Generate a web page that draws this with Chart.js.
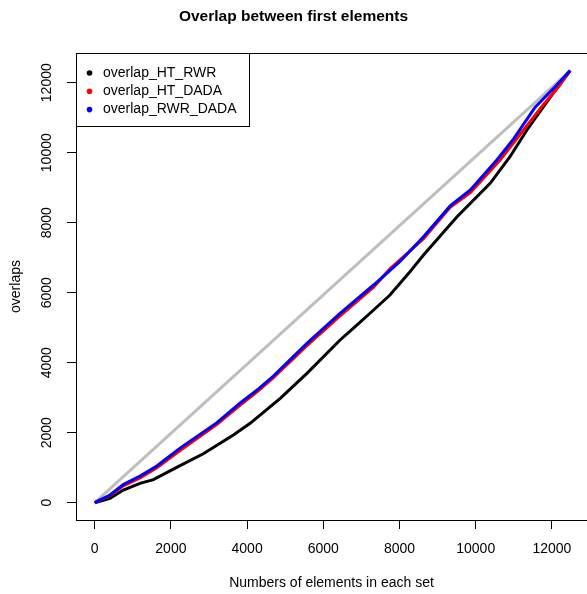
<!DOCTYPE html>
<html>
<head>
<meta charset="utf-8">
<script src="https://cdn.jsdelivr.net/npm/chart.js@4.4.0/dist/chart.umd.min.js"></script>
<style>
  body { margin: 0; background: #fff; }
  #wrap { width: 587px; height: 594px; }
</style>
</head>
<body>
<div id="wrap"><canvas id="overlap-chart" width="587" height="594"></canvas></div>
<script>
// values
const xTicks = [0, 2000, 4000, 6000, 8000, 10000, 12000];
const yTicks = [0, 2000, 4000, 6000, 8000, 10000, 12000];

// grey reference diagonal
const diagX = [0, 12480];
const diagY = [0, 12345];

const htRwrX = [0, 400, 750, 1190, 1540, 2240, 2850, 3640, 4080, 4870, 5570, 6440, 6880, 7320, 7750, 8240, 8630, 9510, 10380, 10900, 11345, 11780, 12220, 12480];
const htRwrY = [0, 126, 363, 554, 660, 1060, 1400, 1934, 2269, 2983, 3697, 4649, 5077, 5506, 5934, 6554, 7077, 8171, 9126, 9886, 10649, 11314, 11983, 12345];

const htDadaX = [0, 400, 750, 1190, 1630, 2240, 3200, 3820, 4300, 4690, 5570, 6440, 7320, 7750, 8630, 9330, 9860, 10640, 11256, 11780, 12180, 12480];
const htDadaY = [0, 200, 480, 710, 1000, 1490, 2230, 2790, 3200, 3570, 4490, 5340, 6160, 6680, 7540, 8440, 8860, 9791, 10649, 11380, 11890, 12345];

const rwrDadaX = [0, 400, 750, 1190, 1630, 2240, 3200, 3820, 4300, 4690, 5570, 6440, 7320, 8020, 8630, 9330, 9860, 10560, 11000, 11560, 12090, 12480];
const rwrDadaY = [0, 220, 520, 760, 1050, 1560, 2280, 2850, 3250, 3620, 4554, 5411, 6220, 6900, 7600, 8480, 8934, 9800, 10400, 11300, 11890, 12345];

const seriesNames = ['overlap_HT_RWR', 'overlap_HT_DADA', 'overlap_RWR_DADA'];
const seriesColors = ['#000000', '#ff0000', '#0000ff'];

function toPoints(xs, ys) {
    return xs.map((x, i) => ({ x: x, y: ys[i] }));
}

Chart.defaults.font.family = "'Liberation Sans', Arial, Helvetica, sans-serif";
Chart.defaults.color = '#000';

// R style box round the plot region (right side runs off the canvas)
const boxPlugin = {
    id: 'plotBox',
    afterDatasetsDraw(chart) {
        const a = chart.chartArea;
        const ctx = chart.ctx;
        ctx.save();
        ctx.strokeStyle = '#000';
        ctx.lineWidth = 1;
        ctx.strokeRect(Math.round(a.left) + 0.5, Math.round(a.top) + 0.5, a.right - a.left + 10, Math.round(a.bottom) - Math.round(a.top));
        ctx.restore();
    }
};

// topleft legend, drawn over the plot like legend() in R
const boxLegend = {
    id: 'boxLegend',
    afterDraw(chart) {
        const a = chart.chartArea;
        const ctx = chart.ctx;
        const left = Math.round(a.left) + 0.5;
        const top = Math.round(a.top) + 0.5;
        ctx.save();
        ctx.fillStyle = '#fff';
        ctx.fillRect(left, top, 173, 73);
        ctx.strokeStyle = '#000';
        ctx.lineWidth = 1;
        ctx.strokeRect(left, top, 173, 73);
        ctx.font = "14px 'Liberation Sans', Arial, sans-serif";
        ctx.textBaseline = 'middle';
        ctx.textAlign = 'left';
        seriesNames.forEach((name, i) => {
            let y = top + 19.5 + i * 18.3;
            ctx.fillStyle = seriesColors[i];
            ctx.beginPath();
            ctx.arc(left + 13, y, 2.8, 0, Math.PI * 2);
            ctx.fill();
            ctx.fillStyle = '#000';
            ctx.fillText(name, left + 26.5, y);
        });
        ctx.restore();
    }
};

const ctx = document.getElementById('overlap-chart');
const chart = new Chart(ctx, {
    type: 'scatter',
    data: {
        datasets: [
            {
                label: seriesNames[2],
                data: toPoints(rwrDadaX, rwrDadaY),
                borderColor: seriesColors[2],
                order: 1
            },
            {
                label: seriesNames[1],
                data: toPoints(htDadaX, htDadaY),
                borderColor: seriesColors[1],
                order: 2
            },
            {
                label: seriesNames[0],
                data: toPoints(htRwrX, htRwrY),
                borderColor: seriesColors[0],
                order: 3
            },
            {
                label: 'diagonal',
                data: toPoints(diagX, diagY),
                borderColor: '#bebebe',
                order: 4
            }
        ].map(d => Object.assign(d, { showLine: true, pointRadius: 0, borderWidth: 3, tension: 0, fill: false, backgroundColor: d.borderColor }))
    },
    options: {
        responsive: false,
        animation: false,
        layout: { padding: 0 },
        scales: {
            x: {
                type: 'linear',
                min: -491,
                max: 12921,
                afterBuildTicks: (s) => { s.ticks = xTicks.map(v => ({ value: v })); },
                afterFit: (s) => { s.height = 74; },
                grid: { drawOnChartArea: false, drawTicks: true, tickLength: 9, color: '#000' },
                border: { display: true, color: '#000' },
                ticks: { font: { size: 14 }, padding: 12, maxRotation: 0, color: '#000', callback: (v) => String(v) },
                title: {
                    display: true,
                    text: 'Numbers of elements in each set',
                    font: { size: 14 },
                    color: '#000',
                    padding: { top: 0, bottom: 2 }
                }
            },
            y: {
                type: 'linear',
                min: -494,
                max: 12849,
                afterBuildTicks: (s) => { s.ticks = yTicks.map(v => ({ value: v })); },
                afterFit: (s) => { s.width = 76; },
                grid: { drawOnChartArea: false, drawTicks: true, tickLength: 9, color: '#000' },
                border: { display: true, color: '#000' },
                ticks: { font: { size: 14 }, padding: 0, minRotation: 90, maxRotation: 90, crossAlign: 'center', color: '#000', callback: (v) => String(v) },
                title: {
                    display: true,
                    text: 'overlaps',
                    font: { size: 14 },
                    color: '#000',
                    padding: { top: 7.5, bottom: 0 }
                }
            }
        },
        plugins: {
            legend: { display: false },
            tooltip: { enabled: false },
            title: {
                display: true,
                text: 'Overlap between first elements',
                font: { size: 15.5, weight: 'bold' },
                color: '#000',
                padding: { top: 7.5, bottom: 26.9 }
            }
        }
    },
    plugins: [boxPlugin, boxLegend]
});
</script>
</body>
</html>
